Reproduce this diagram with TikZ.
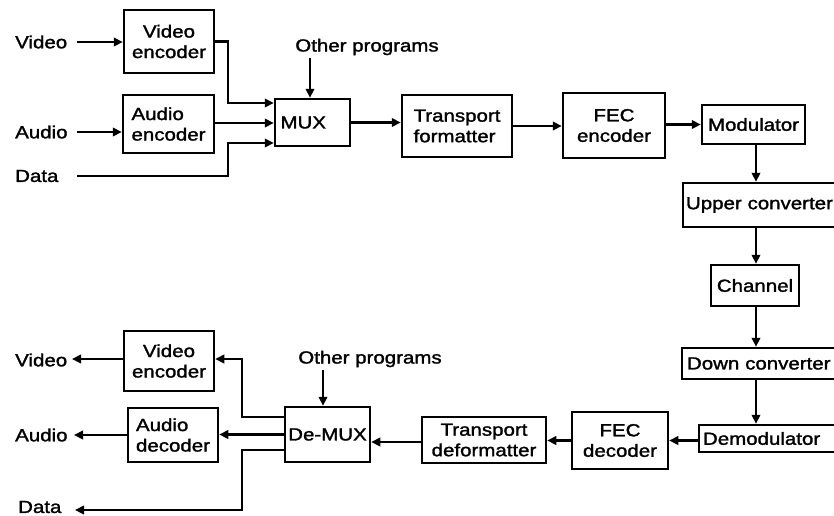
\documentclass[tikz,border=0pt]{standalone}
\usepackage{fontspec}
\setmainfont[FakeStretch=1.17,FakeBold=1.6]{Liberation Sans}
\usetikzlibrary{arrows.meta}
\begin{document}
\begin{tikzpicture}[x=1pt,y=-1pt,
  txt/.style={font=\fontsize{17.5}{20.5}\selectfont},
  box/.style={txt,draw,line width=2.5pt,inner sep=0pt,align=center},
  lbl/.style={txt,inner sep=0pt},
  conn/.style={line width=2.5pt,-{Triangle[length=9pt,width=8.5pt]}}]
\useasboundingbox (0,0) rectangle (834,515);
\fill[white] (0,0) rectangle (834,515);
\clip (0,0) rectangle (834,515);
% ---------- transmitter ----------
\node[box,minimum width=90pt,minimum height=63pt] (venc) at (169,41.5) {Video\\encoder};
\node[box,align=left,minimum width=91pt,minimum height=58pt] (aenc) at (168.5,124) {Audio\\encoder};
\node[box,minimum width=75pt,minimum height=47pt,text width=64pt,align=left] (mux) at (312.5,122.5) {MUX};
\node[box,align=left,minimum width=110pt,minimum height=62pt] (tf) at (457,126) {Transport\\formatter};
\node[box,minimum width=102pt,minimum height=65pt] (fece) at (614,125.5) {FEC\\encoder};
\node[box,minimum width=103pt,minimum height=39pt] (mod) at (753.5,124.5) {Modulator};
\node[box,minimum width=160pt,minimum height=44pt,text width=154pt,align=left] (upc) at (763,205) {Upper converter};
\node[box,minimum width=88pt,minimum height=41pt] (chan) at (755,285.5) {Channel};
\node[box,minimum width=160pt,minimum height=31pt,text width=150pt,align=left] (dnc) at (762,363.5) {Down converter};
\node[box,minimum width=139pt,minimum height=27pt,text width=131pt,align=left] (demod) at (768.5,438.5) {Demodulator};
% ---------- receiver ----------
\node[box,minimum width=96pt,minimum height=57pt] (fecd) at (620,440.5) {FEC\\decoder};
\node[box,minimum width=124pt,minimum height=46pt] (tdf) at (484,440) {Transport\\deformatter};
\node[box,minimum width=85pt,minimum height=55pt] (demux) at (327.5,434.5) {De-MUX};
\node[box,minimum width=90pt,minimum height=60pt] (vdec) at (169,361) {Video\\encoder};
\node[box,align=left,minimum width=90pt,minimum height=54pt] (adec) at (173,435) {Audio\\decoder};
% ---------- labels ----------
\node[lbl,anchor=west] (vin) at (15,42) {Video};
\node[lbl,anchor=west] (ain) at (15,132) {Audio};
\node[lbl,anchor=west] (din) at (15,176) {Data};
\node[lbl] (opt) at (367,47) {Other programs};
\node[lbl,anchor=west] (vout) at (15,360) {Video};
\node[lbl,anchor=west] (aout) at (15,435) {Audio};
\node[lbl,anchor=west] (dout) at (18,507) {Data};
\node[lbl] (opb) at (370,359) {Other programs};
% ---------- free ends ----------
\coordinate (vinS) at (77,42);
\coordinate (ainS) at (77,132);
\coordinate (dinS) at (77,176);
\coordinate (voutE) at (72,359);
\coordinate (aoutE) at (74,435);
\coordinate (doutE) at (75,510);
\coordinate (optx) at (310,0);
\coordinate (opbx) at (323,0);
\coordinate (chx) at (756,0);
% ---------- transmitter connectors ----------
\draw[conn] (vinS) -- (vinS -| venc.west);
\draw[conn] (ainS) -- (ainS -| aenc.west);
\draw[conn] (venc.east) -- (228,41.5) |- ([yshift=19.5pt]mux.west);
\draw[conn] ([yshift=1pt]aenc.east) -- ([yshift=1pt]aenc.east -| mux.west);
\draw[conn] (dinS) -- (228,176) |- ([yshift=-20.5pt]mux.west);
\draw[conn,shorten <=3pt] (opt.south -| optx) -- (mux.north -| optx);
\draw[conn] (mux.east) -- (mux.east -| tf.west);
\draw[conn] (tf.east) -- (tf.east -| fece.west);
\draw[conn] (fece.east |- mod.west) -- (mod.west);
\draw[conn] (mod.south -| chx) -- (upc.north -| chx);
\draw[conn] (upc.south -| chx) -- (chan.north -| chx);
\draw[conn] (chan.south -| chx) -- (dnc.north -| chx);
\draw[conn] (dnc.south -| chx) -- (demod.north -| chx);
% ---------- receiver connectors ----------
\draw[conn] (demod.west |- fecd.east) -- (fecd.east);
\draw[conn] (fecd.west) -- (fecd.west -| tdf.east);
\draw[conn] ([yshift=-2pt]tdf.west) -- ([yshift=-2pt]tdf.west -| demux.east);
\draw[conn,shorten <=3pt] (opb.south -| opbx) -- (demux.north -| opbx);
\draw[conn] ([yshift=17.5pt]demux.west) -- (242,417) |- ([yshift=2pt]vdec.east);
\draw[conn] (demux.west) -- (demux.west -| adec.east);
\draw[conn] ([yshift=-15.5pt]demux.west) -- (242,450) |- (doutE);
\draw[conn] ([yshift=2pt]vdec.west) -- (voutE);
\draw[conn] (adec.west) -- (aoutE);
\end{tikzpicture}
\end{document}
